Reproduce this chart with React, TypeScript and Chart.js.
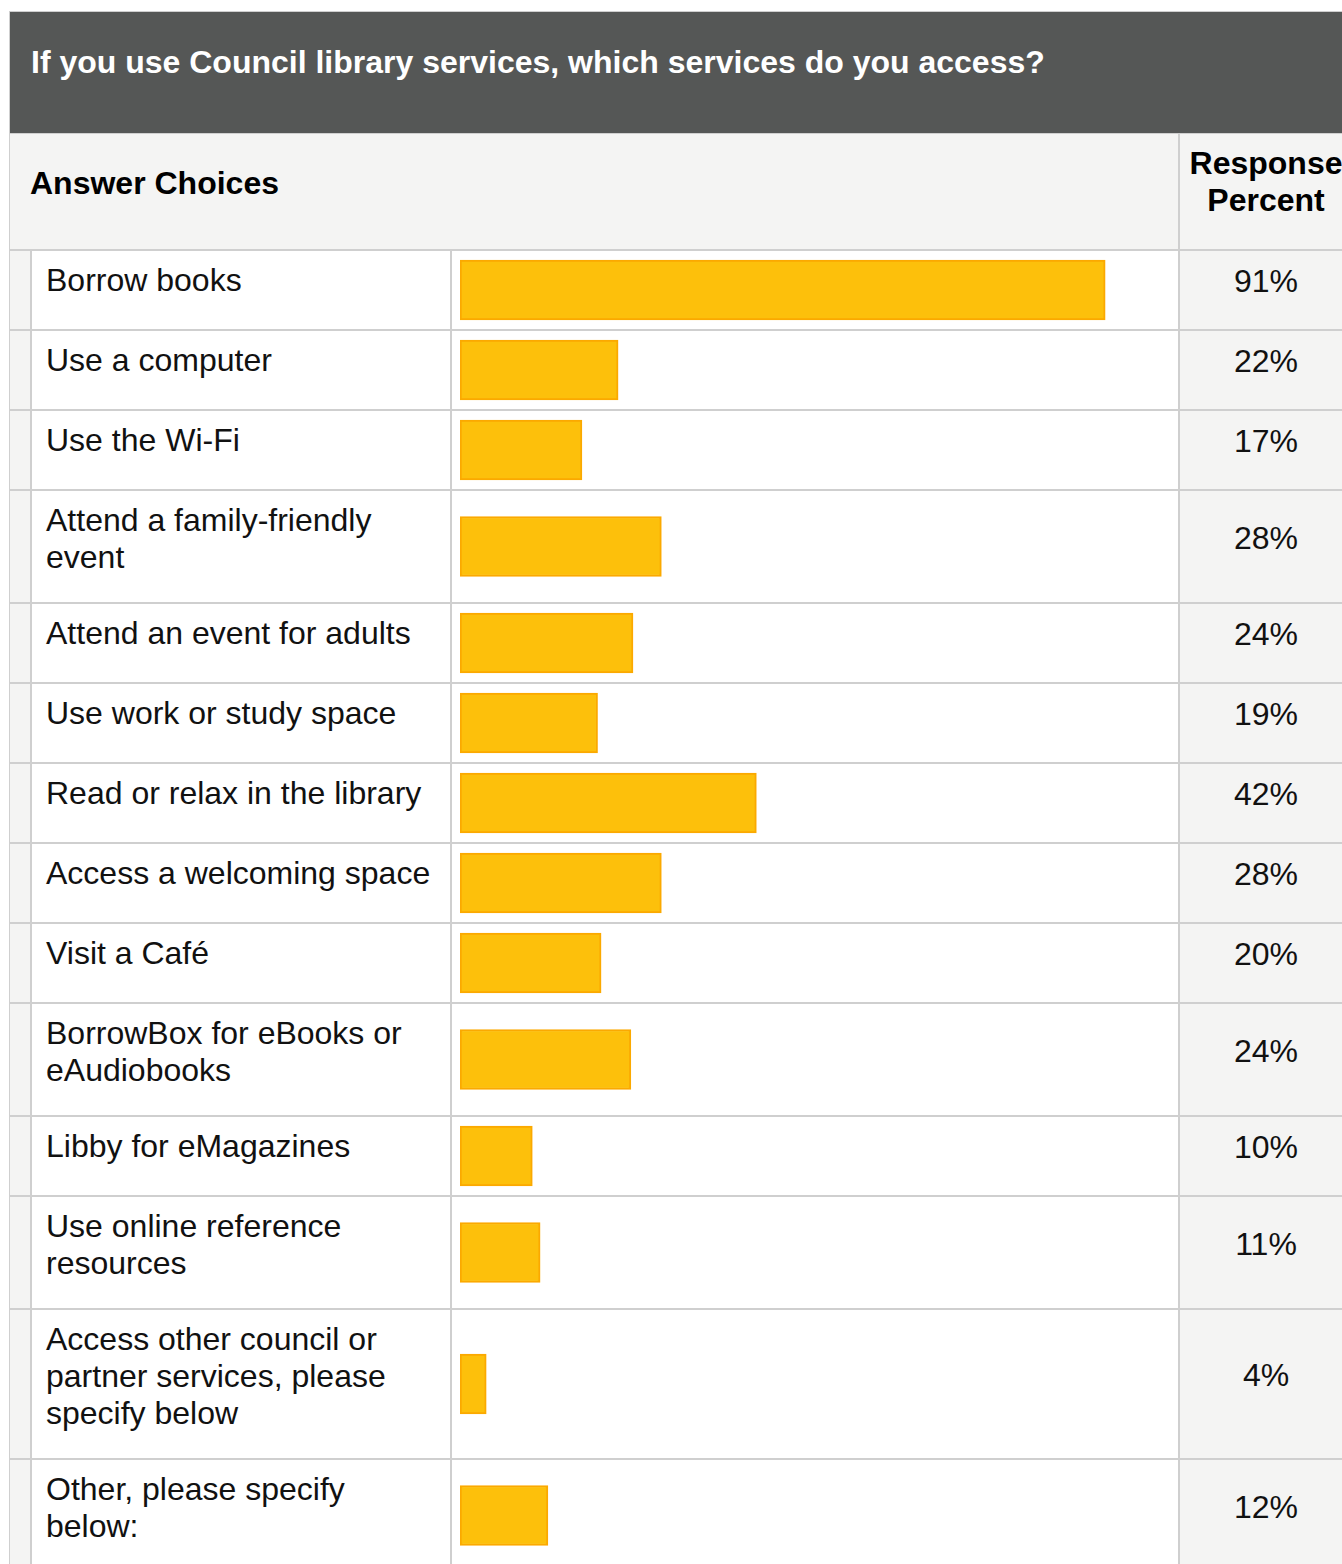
import React, { useEffect, useRef } from "react";
import { Chart, registerables } from "chart.js";

Chart.register(...registerables);

const title = "If you use Council library services, which services do you access?";
const headerChoices = "Answer Choices";
const headerPercent = ["Response", "Percent"];

const categories = [
  "Borrow books",
  "Use a computer",
  "Use the Wi-Fi",
  "Attend a family-friendly event",
  "Attend an event for adults",
  "Use work or study space",
  "Read or relax in the library",
  "Access a welcoming space",
  "Visit a Café",
  "BorrowBox for eBooks or eAudiobooks",
  "Libby for eMagazines",
  "Use online reference resources",
  "Access other council or partner services, please specify below",
  "Other, please specify below:",
];

const responsePercent = [91.0, 22.3, 17.2, 28.4, 24.4, 19.4, 41.8, 28.4, 19.9, 24.1, 10.2, 11.3, 3.7, 12.4];

const axisMin = 0;
const axisMax = 100;

const FONT = '"Liberation Sans", Arial, Helvetica, sans-serif';
const BORDER = "#cfcfcf";
const LIGHT = "#f4f4f3";

function BarCell({ value }: { value: number }) {
  const ref = useRef<HTMLCanvasElement | null>(null);
  useEffect(() => {
    if (!ref.current) return;
    const chart = new Chart(ref.current, {
      type: "bar",
      data: {
        labels: [""],
        datasets: [
          {
            data: [value],
            backgroundColor: "#FDC00B",
            borderColor: "#FBA900",
            borderWidth: 2,
            borderSkipped: false,
            barThickness: 60,
          },
        ],
      },
      options: {
        indexAxis: "y",
        animation: false,
        responsive: true,
        maintainAspectRatio: false,
        layout: { padding: { left: 8, right: 9, top: 0, bottom: 0 } },
        plugins: { legend: { display: false }, tooltip: { enabled: false }, title: { display: false } },
        scales: {
          x: { min: axisMin, max: axisMax, display: false },
          y: { display: false },
        },
      },
    });
    return () => chart.destroy();
  }, [value]);
  return (
    <div style={{ position: "absolute", inset: 0 }}>
      <canvas ref={ref} />
    </div>
  );
}

export default function App() {
  const textStyle: React.CSSProperties = {
    fontFamily: FONT,
    fontSize: 32,
    lineHeight: "37px",
    color: "#111",
  };
  return (
    <div
      style={{
        position: "fixed",
        left: 0,
        top: 0,
        width: 1342,
        height: 1564,
        overflow: "hidden",
        background: "#fff",
      }}
    >
      <div
        style={{
          position: "absolute",
          left: 9,
          top: 11,
          width: 1344,
          borderLeft: `1px solid ${BORDER}`,
          borderTop: `1px solid ${BORDER}`,
        }}
      >
        {/* Title */}
        <div
          style={{
            height: 122,
            background: "#555756",
            boxSizing: "border-box",
            paddingTop: 32,
            paddingLeft: 21,
            borderBottom: `1px solid ${BORDER}`,
          }}
        >
          <div style={{ ...textStyle, color: "#fff", fontWeight: 700, whiteSpace: "nowrap" }}>{title}</div>
        </div>
        {/* Header */}
        <div style={{ display: "flex", height: 115, background: LIGHT }}>
          <div
            style={{
              width: 1168,
              boxSizing: "border-box",
              paddingLeft: 20,
              display: "flex",
              alignItems: "center",
              paddingTop: 11,
              paddingBottom: 28,
            }}
          >
            <div style={{ ...textStyle, fontWeight: 700, color: "#000" }}>{headerChoices}</div>
          </div>
          <div style={{ width: 2, background: BORDER }} />
          <div style={{ width: 172, paddingTop: 11, textAlign: "center" }}>
            {headerPercent.map((t, i) => (
              <div key={i} style={{ ...textStyle, fontWeight: 700, color: "#000", whiteSpace: "nowrap" }}>
                {t}
              </div>
            ))}
          </div>
        </div>
        {/* Rows */}
        {categories.map((cat, i) => (
          <div
            key={i}
            style={{
              display: "flex",
              alignItems: "stretch",
              borderTop: `2px solid ${BORDER}`,
              minHeight: 78,
            }}
          >
            <div style={{ width: 20, background: LIGHT }} />
            <div style={{ width: 2, background: BORDER }} />
            <div
              style={{
                width: 418,
                boxSizing: "border-box",
                paddingLeft: 14,
                paddingRight: 12,
                paddingTop: 11,
                paddingBottom: 26,
                background: "#fff",
              }}
            >
              <div style={textStyle}>{cat}</div>
            </div>
            <div style={{ width: 2, background: BORDER }} />
            <div style={{ width: 726, position: "relative", background: "#fff" }}>
              <BarCell value={responsePercent[i]} />
            </div>
            <div style={{ width: 2, background: BORDER }} />
            <div
              style={{
                width: 172,
                background: LIGHT,
                boxSizing: "border-box",
                paddingTop: 11,
                paddingBottom: 28,
                display: "flex",
                alignItems: "center",
                justifyContent: "center",
              }}
            >
              <div style={textStyle}>{Math.round(responsePercent[i])}%</div>
            </div>
          </div>
        ))}
      </div>
    </div>
  );
}
